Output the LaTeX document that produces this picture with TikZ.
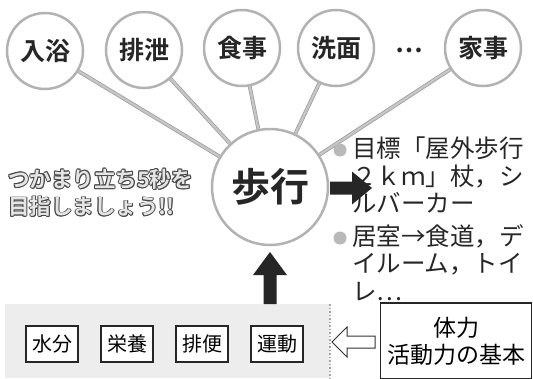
\documentclass[tikz,border=0pt]{standalone}
\usepackage{fontspec}
\newfontfamily\jp{Noto Sans CJK JP}
\newfontfamily\jpbold{Noto Sans CJK JP Bold}
\usetikzlibrary{calc}
\tikzset{
  topc/.style={circle, draw=gray!60, line width=2.5pt, fill=white, minimum size=76pt, inner sep=0pt, text=black!85, font=\jpbold\fontsize{25}{25}\selectfont},
  centc/.style={circle, draw=gray!60, line width=2.5pt, fill=white, minimum size=116pt, inner sep=0pt, text=black!85, font=\jpbold\fontsize{39}{39}\selectfont},
  link/.style={draw=gray!80, line width=0.7pt, double=gray!45, double distance=2.4pt},
  smallbox/.style={draw=black!85, line width=1.3pt, fill=white, minimum width=52pt, minimum height=36pt, inner sep=0pt, font=\jp\fontsize{20}{20}\selectfont},
  bodytxt/.style={anchor=north west, inner sep=0pt, align=left, font=\jp\fontsize{24.5}{27.5}\selectfont, text=black!85},
  bullet/.style={circle, fill=gray!55, minimum size=13pt, inner sep=0pt},
  outl/.style={anchor=west, inner sep=0pt, align=left, font=\jpbold\fontsize{21.5}{27.5}\selectfont},
}
\begin{document}
\begin{tikzpicture}[x=1pt,y=-1pt]
\useasboundingbox (0,0) rectangle (533,378);
% dotted background
\fill[black!7] (5,304) rectangle (330,378);
\draw[black!35, line width=1.5pt, dotted] (330,304) -- (330,378);
% circles
\node[topc] (a) at (45,51) {入浴};
\node[topc] (b) at (144,50) {排泄};
\node[topc] (c) at (242,48) {食事};
\node[topc] (d) at (336,48) {洗面};
\node[inner sep=0pt, text=black!85, font=\jpbold\fontsize{25}{25}\selectfont] (e) at (409,50) {…};
\node[topc] (f) at (483,48) {家事};
\node[centc] (g) at (270,187) {歩行};
% links
\foreach \n in {a,b,c,d,f} \draw[link] (\n) -- (g);
% black right arrow
\coordinate (ra) at (330,188);
\fill[black!85] (ra) ++(0,-6.5) -- ++(22,0) -- ++(0,-10) -- ++(20,16.5) -- ++(-20,16.5) -- ++(0,-10) -- ++(-22,0) -- cycle;
% black up arrow
\coordinate (ua) at (270,304);
\fill[black!85] (ua) ++(-6.5,0) -- ++(0,-29) -- ++(-10.5,0) -- ++(17,-23) -- ++(17,23) -- ++(-10.5,0) -- ++(0,29) -- cycle;
% right text
\node[bullet] (b1) at (340,150) {};
\node[bodytxt] (t1) at (352,137) {目標「屋外歩行\\２ｋｍ」杖，シ\\ルバーカー};
\node[bullet] (b2) at (340,238) {};
\node[bodytxt] (t2) at (352,224) {居室→食道，デ\\イルーム，トイ\\レ…};
% outlined text
\foreach \dx/\dy in {-0.9/0,0.9/0,0/-0.9,0/0.9,-0.65/-0.65,0.65/0.65,-0.65/0.65,0.65/-0.65}
  \node[outl, text=black!72] at (8+\dx,193+\dy) {つかまり立ち5秒を\\目指しましょう!!};
\node[outl, text=gray!20] (lt) at (8,193) {つかまり立ち5秒を\\目指しましょう!!};
% small boxes
\node[smallbox] (s1) at (52,344) {水分};
\node[smallbox] (s2) at (127,344) {栄養};
\node[smallbox] (s3) at (202,344) {排便};
\node[smallbox] (s4) at (277,344) {運動};
% base box
\node[draw=black!85, line width=1.3pt, fill=white, minimum width=151pt, minimum height=76pt, inner sep=0pt, align=center, font=\jp\fontsize{23}{27}\selectfont] (k) at (456,341) {体力\\活動力の基本};
% hollow arrow
\draw[black!80, line width=1pt, fill=white] (375,336) -- (347,336) -- (347,327) -- (332,342) -- (347,357) -- (347,348) -- (375,348) -- cycle;
\end{tikzpicture}
\end{document}
